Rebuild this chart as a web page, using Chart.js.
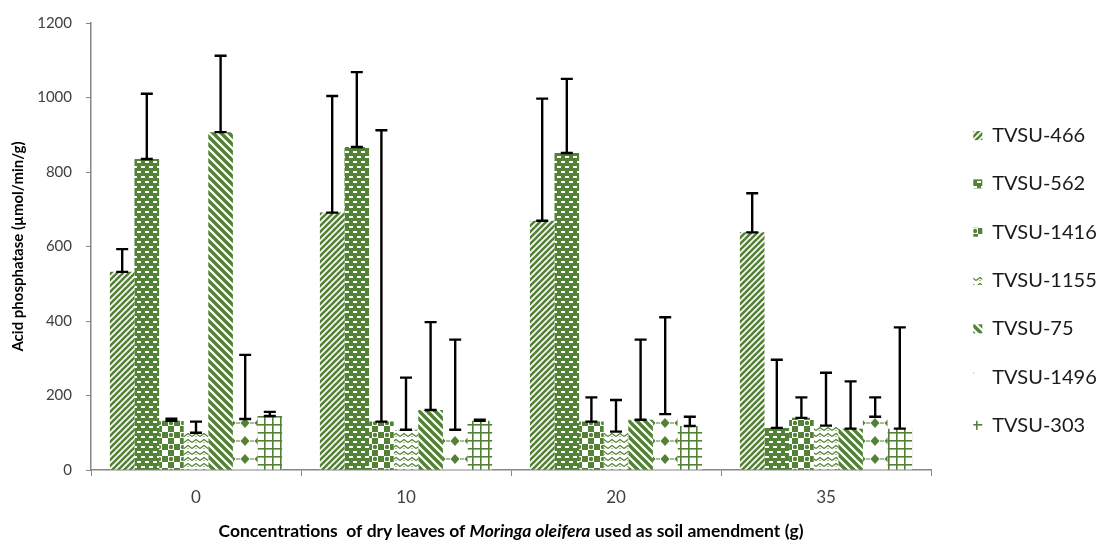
<!DOCTYPE html>
<html>
<head>
<meta charset="utf-8">
<script src="https://cdn.jsdelivr.net/npm/chart.js@4"></script>
<style>
  html, body { margin: 0; padding: 0; background: #fff; }
  #wrap { width: 1119px; height: 545px; }
</style>
</head>
<body>
<div id="wrap"><canvas id="myChart" width="1119" height="545"></canvas></div>
<script>
// values (µmol/min/g), error bars are plus-only
const categories = ['0', '10', '20', '35'];
const labels = ['TVSU-466', 'TVSU-562', 'TVSU-1416', 'TVSU-1155', 'TVSU-75', 'TVSU-1496', 'TVSU-303'];

const tvsu466 = [532, 691, 669, 638];
const tvsu562 = [835, 867, 851, 113];
const tvsu1416 = [132, 130, 130, 140];
const tvsu1155 = [100, 108, 103, 119];
const tvsu75 = [907, 161, 135, 111];
const tvsu1496 = [137, 108, 150, 143];
const tvsu303 = [145, 132, 118, 111];

const err466 = [61, 313, 328, 105];
const err562 = [175, 201, 199, 183];
const err1416 = [6, 782, 65, 55];
const err1155 = [30, 140, 85, 142];
const err75 = [205, 236, 215, 127];
const err1496 = [172, 242, 260, 52];
const err303 = [11, 3, 25, 272];

const yTicks = [0, 200, 400, 600, 800, 1000, 1200];

const GREEN = '#538135';
const FONT = 'Lato';

// small tiles for the Excel-like fill patterns
function tile(w, h, draw) {
    const c = document.createElement('canvas');
    c.width = w; c.height = h;
    const g = c.getContext('2d');
    g.fillStyle = '#fff';
    g.fillRect(0, 0, w, h);
    g.fillStyle = GREEN;
    g.strokeStyle = GREEN;
    draw(g, w, h);
    return c.getContext('2d').createPattern(c, 'repeat');
}

function diagonal(size, width, up) {
    return tile(size, size, (g, w) => {
        g.lineWidth = width;
        for (let k = -1; k <= 1; k++) {
            g.beginPath();
            if (up) { g.moveTo(k * w - 1, w + 1); g.lineTo(k * w + w + 1, -1); }
            else { g.moveTo(k * w - 1, -1); g.lineTo(k * w + w + 1, w + 1); }
            g.stroke();
        }
    });
}

const patterns = [
    diagonal(6, 2.6, true),                       // wide upward diagonal
    tile(8, 10, (g) => {                           // green with white dashes
        g.fillRect(0, 0, 8, 10);
        g.fillStyle = '#fff';
        g.fillRect(1, 1, 4, 2);
        g.fillRect(5, 6, 3, 2);
        g.fillRect(0, 6, 1, 2);
    }),
    tile(12, 12, (g) => {                          // checker with round dots
        g.fillRect(6, 0, 6, 6);
        g.fillRect(0, 6, 6, 6);
        g.beginPath(); g.arc(3, 3, 2.2, 0, Math.PI * 2); g.fill();
        g.beginPath(); g.arc(9, 9, 2.2, 0, Math.PI * 2);
        g.fillStyle = '#fff'; g.fill();
    }),
    tile(8, 6, (g) => {                            // light zigzag
        g.lineWidth = 1.2;
        g.beginPath(); g.moveTo(0, 4.5); g.lineTo(4, 1.5); g.lineTo(8, 4.5); g.stroke();
        g.fillRect(3.5, 4, 1, 1);
    }),
    diagonal(8, 3.4, false),                       // wide downward diagonal
    tile(14, 18, (g) => {                          // diamonds
        g.beginPath();
        g.moveTo(7, 4); g.lineTo(11.5, 9); g.lineTo(7, 14); g.lineTo(2.5, 9);
        g.closePath(); g.fill();
        g.fillRect(0, 8.5, 2, 1);
        g.fillRect(12, 8.5, 2, 1);
    }),
    tile(8, 8, (g) => {                            // grid
        g.fillRect(0, 0, 8, 1.6);
        g.fillRect(0, 0, 1.6, 8);
    })
];

const seriesValues = [tvsu466, tvsu562, tvsu1416, tvsu1155, tvsu75, tvsu1496, tvsu303];
const seriesErrors = [err466, err562, err1416, err1155, err75, err1496, err303];

// black "I" error bars drawn on top of the bars
const errorBars = {
    id: 'errorBars',
    afterDatasetsDraw(chart) {
        const { ctx } = chart;
        const y = chart.scales.y;
        ctx.save();
        ctx.strokeStyle = '#000';
        ctx.lineWidth = 2.4;
        chart.data.datasets.forEach((ds, i) => {
            const meta = chart.getDatasetMeta(i);
            if (meta.hidden) return;
            meta.data.forEach((bar, j) => {
                const top = y.getPixelForValue(ds.data[j] + ds.errorPlus[j]);
                const x = bar.x;
                const y0 = bar.y;
                ctx.beginPath();
                ctx.moveTo(x, y0); ctx.lineTo(x, top);
                ctx.moveTo(x - 6, top); ctx.lineTo(x + 6, top);
                ctx.moveTo(x - 6, y0); ctx.lineTo(x + 6, y0);
                ctx.stroke();
            });
        });
        ctx.restore();
    }
};

// x title has an italic species name in the middle
const xTitleParts = [
    { text: 'Concentrations  of dry leaves of ', italic: false },
    { text: 'Moringa oleifera', italic: true },
    { text: ' used as soil amendment (g)', italic: false }
];
const xTitle = {
    id: 'xTitle',
    afterDraw(chart) {
        const { ctx, chartArea } = chart;
        const font = (it) => (it ? 'italic ' : '') + 'bold 17.5px ' + FONT;
        ctx.save();
        let total = 0;
        xTitleParts.forEach(p => { ctx.font = font(p.italic); total += ctx.measureText(p.text).width; });
        let x = (chartArea.left + chartArea.right) / 2 - total / 2;
        ctx.fillStyle = '#000';
        ctx.textBaseline = 'middle';
        xTitleParts.forEach(p => {
            ctx.font = font(p.italic);
            ctx.fillText(p.text, x, 531);
            x += ctx.measureText(p.text).width;
        });
        ctx.restore();
    }
};

// fixed legend width so the plot ends where the original one does
const legendWidth = {
    id: 'legendWidth',
    afterInit(chart) {
        const lg = chart.legend;
        const fit = lg.fit.bind(lg);
        lg.fit = function () { fit(); this.width = 174; };
    }
};

const ctx = document.getElementById('myChart').getContext('2d');
new Chart(ctx, {
    type: 'bar',
    data: {
        labels: categories,
        datasets: labels.map((name, i) => ({
            label: name,
            data: seriesValues[i],
            errorPlus: seriesErrors[i],
            backgroundColor: patterns[i],
            borderWidth: 0,
            categoryPercentage: 0.82,
            barPercentage: 1.0
        }))
    },
    options: {
        responsive: false,
        animation: false,
        layout: { padding: { top: 16, left: 0, right: 0, bottom: 0 } },
        plugins: {
            title: { display: false },
            tooltip: { enabled: false },
            legend: {
                position: 'right',
                labels: {
                    boxWidth: 9,
                    boxHeight: 9,
                    padding: 28.3,
                    color: '#1a1a1a',
                    font: { family: FONT, size: 20 }
                }
            }
        },
        scales: {
            x: {
                grid: {
                    display: true,
                    drawOnChartArea: false,
                    drawTicks: true,
                    tickLength: 6,
                    color: '#868686',
                    offset: true
                },
                border: { color: '#868686', width: 1.5 },
                ticks: { color: '#404040', padding: 11, font: { family: FONT, size: 17 } },
                afterFit(s) { s.height = 75; }
            },
            y: {
                min: 0,
                max: 1200,
                afterBuildTicks(s) { s.ticks = yTicks.map(v => ({ value: v })); },
                grid: {
                    display: true,
                    drawOnChartArea: false,
                    drawTicks: true,
                    tickLength: 5,
                    color: '#868686'
                },
                border: { color: '#868686', width: 1.5 },
                ticks: {
                    color: '#404040',
                    padding: 14,
                    font: { family: FONT, size: 15 },
                    callback: (v) => String(v)
                },
                title: {
                    display: true,
                    text: 'Acid phosphatase (µmol/min/g)',
                    color: '#000',
                    padding: { top: 9, bottom: 0 },
                    font: { family: FONT, size: 15, weight: 'bold' }
                },
                afterFit(s) { s.width = 91; }
            },
            gap: {
                position: 'right',
                display: true,
                grid: { display: false },
                border: { display: false },
                ticks: { display: false },
                afterFit(s) { s.width = 14; }
            }
        }
    },
    plugins: [errorBars, xTitle, legendWidth]
});
</script>
</body>
</html>
